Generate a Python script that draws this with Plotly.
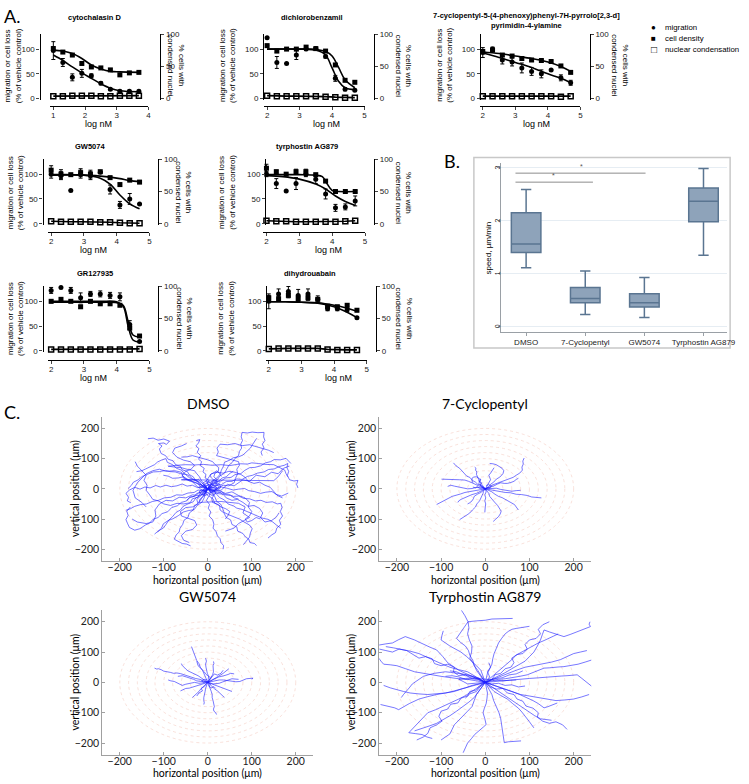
import plotly.graph_objects as go

W, H = 749, 784
FA = "Liberation Sans"
FC = "Lato"

# ---------------- Panel A data ----------------
logx_cyto = [1.0, 1.3, 1.6, 1.9, 2.2, 2.5, 2.8, 3.1, 3.4, 3.7]
logx_std = [2.0, 2.3, 2.6, 2.9, 3.2, 3.5, 3.8, 4.1, 4.4, 4.7]

cyto_mig = [97, 73, 43, 51, 46, 31, 19, 15, 15, 15]
cyto_mig_err = [18, 8, 7, 8, 4, 3, 2, 2, 2, 2]
cyto_den = [101, 94, 88, 71, 64, 62, 58, 48, 52, 53]
cyto_den_err = [4, 2, 2, 3, 2, 2, 2, 2, 2, 2]
cyto_nuc = [5, 5, 6, 6, 6, 5, 5, 6, 6, 6]
cyto_fit_x = [1.0, 1.3, 1.6, 1.9, 2.2, 2.5, 2.8, 3.1, 3.7]
cyto_fit_mig = [88, 77, 64, 52, 41, 30, 21, 16, 14]
cyto_fit_den = [98, 96, 91, 81, 68, 60, 55, 54, 53]

dichl_mig = [123, 73, 71, 88, 100, 101, 85, 41, 19, 17]
dichl_mig_err = [0, 12, 0, 9, 3, 2, 3, 6, 3, 2]
dichl_den = [107, 96, 100, 100, 104, 101, 96, 68, 37, 33]
dichl_den_err = [0, 3, 2, 2, 3, 2, 2, 3, 2, 2]
dichl_nuc = [6, 5, 5, 5, 5, 5, 4, 3, 2, 2]
dichl_fit_x = [2.0, 3.0, 3.5, 3.8, 4.0, 4.2, 4.4, 4.7]
dichl_fit_mig = [100, 100, 98, 88, 62, 35, 22, 18]
dichl_fit_den = [100, 100, 99, 95, 86, 63, 38, 22]

cyc7_mig = [93, 100, 78, 74, 62, 55, 50, 58, 42, 32]
cyc7_mig_err = [10, 4, 8, 8, 10, 8, 8, 0, 6, 5]
cyc7_den = [95, 98, 88, 86, 81, 78, 77, 75, 66, 53]
cyc7_den_err = [4, 3, 3, 3, 3, 2, 2, 2, 2, 2]
cyc7_nuc = [5, 5, 5, 5, 5, 5, 5, 5, 4, 5]
cyc7_fit_x = [2.0, 2.5, 3.0, 3.5, 4.0, 4.4, 4.7]
cyc7_fit_mig = [92, 83, 73, 63, 50, 41, 32]
cyc7_fit_den = [94, 91, 86, 81, 74, 65, 55]

gw_mig = [100, 97, 67, 100, 97, 104, 69, 38, 50, 40]
gw_mig_err = [8, 8, 0, 8, 8, 0, 9, 7, 11, 0]
gw_den = [108, 100, 99, 103, 100, 105, 93, 79, 88, 84]
gw_den_err = [9, 9, 2, 8, 8, 0, 2, 3, 3, 3]
gw_nuc = [5, 4, 4, 4, 4, 3, 3, 2, 1, 1]
gw_fit_x = [2.0, 3.0, 3.5, 3.8, 4.1, 4.4, 4.7]
gw_fit_mig = [99, 98, 92, 80, 58, 40, 30]
gw_fit_den = [98, 98, 96, 94, 91, 87, 85]

tyr_mig = [100, 81, 66, 81, 100, 90, 60, 32, 34, 46]
tyr_mig_err = [5, 10, 0, 12, 5, 9, 10, 7, 6, 10]
tyr_den = [112, 105, 100, 105, 105, 99, 86, 65, 65, 65]
tyr_den_err = [8, 3, 2, 5, 5, 2, 2, 2, 2, 2]
tyr_nuc = [6, 5, 5, 4, 4, 4, 4, 4, 5, 6]
tyr_fit_x = [2.0, 2.5, 3.0, 3.5, 3.8, 4.1, 4.4, 4.7]
tyr_fit_mig = [97, 95, 90, 80, 70, 56, 45, 37]
tyr_fit_den_x = [2.0, 3.0, 3.5, 3.7, 3.85, 4.0, 4.2, 4.7]
tyr_fit_den = [99, 99, 98, 95, 80, 67, 65, 65]

gr_mig = [122, 128, 122, 107, 115, 115, 112, 109, 53, 19]
gr_mig_err = [6, 0, 6, 10, 5, 6, 6, 8, 8, 0]
gr_den = [100, 104, 100, 89, 100, 95, 95, 92, 46, 30]
gr_den_err = [3, 2, 2, 3, 3, 2, 2, 2, 3, 2]
gr_nuc = [3, 3, 3, 3, 3, 3, 3, 3, 3, 4]
gr_fit_x = [2.0, 3.5, 4.0, 4.2, 4.35, 4.5, 4.7]
gr_fit_mig = [100, 100, 99, 90, 50, 22, 18]
gr_fit_den = [98, 98, 97, 92, 60, 32, 28]

dhou_mig = [100, 115, 120, 112, 115, 104, 85, 85, 83, 67]
dhou_mig_err = [15, 10, 10, 12, 10, 7, 4, 4, 4, 2]
dhou_den = [107, 105, 112, 105, 107, 104, 90, 89, 92, 82]
dhou_den_err = [5, 5, 5, 5, 5, 3, 3, 3, 3, 3]
dhou_nuc = [4, 5, 5, 5, 5, 5, 3, 2, 2, 2]
dhou_fit_x = [2.0, 2.5, 3.0, 3.5, 4.0, 4.4, 4.7]
dhou_fit_mig = [99, 99, 98, 96, 89, 78, 67]
dhou_fit_den = [99, 99, 98, 97, 92, 86, 80]

# ---------------- Panel B data ----------------
b_cats = ["DMSO", "7-Cyclopentyl", "GW5074", "Tyrphostin AG879"]
b_low = [1.10, 0.22, 0.16, 1.34]
b_q1 = [1.39, 0.44, 0.36, 1.97]
b_med = [1.55, 0.52, 0.44, 2.36]
b_q3 = [2.14, 0.73, 0.61, 2.61]
b_high = [2.58, 1.04, 0.92, 2.98]
b_yticks = [0, 1, 2, 3]

# ---------------- Panel C data (cell tracks, µm) ----------------
ring_radii = [20, 40, 60, 80, 100, 120, 140, 160, 180, 200]

dmso_tracks = [
    [(0,0),(-5,8),(-14,12),(-18,22),(-28,28),(-33,40),(-42,47),(-47,58),(-58,63),(-62,74),(-73,80),(-79,93),(-90,98),(-96,110),(-106,117),(-110,132),(-104,142),(-112,150),(-100,152),(-94,147),(-87,158),(-100,165),(-113,161),(-124,168),(-136,166)],
    [(0,0),(4,10),(-2,18),(3,28),(-6,36),(-4,48),(-11,56),(-8,68),(-17,77),(-14,90),(-21,98),(-16,110),(-24,121),(-20,133),(-27,142),(-21,152),(-18,163),(-26,160)],
    [(0,0),(7,12),(14,24),(22,30),(27,42),(38,52),(42,63),(48,78),(56,88),(62,101),(70,110),(72,124),(77,135),(75,148),(79,160),(76,172),(78,187),(90,185),(101,188),(114,186),(128,187),(127,172),(130,160),(124,148),(128,135),(121,122),(124,110)],
    [(0,0),(11,4),(19,12),(31,14),(42,24),(55,25),(66,33),(78,31),(90,41),(102,45),(113,52),(128,56),(138,64),(151,66),(163,74),(174,78),(182,84),(180,70),(184,58),(181,44),(186,30),(196,26),(205,28),(202,15),(205,3)],
    [(0,0),(12,-6),(24,-8),(33,-17),(47,-18),(58,-25),(71,-24),(82,-32),(95,-33),(108,-40),(121,-38),(133,-45),(147,-43),(158,-50),(166,-48),(169,-62),(165,-75),(170,-90),(163,-104),(166,-118),(157,-130),(154,-145),(146,-152),(137,-163)],
    [(0,0),(6,-12),(3,-24),(12,-33),(16,-48),(27,-55),(28,-70),(37,-80),(42,-95),(52,-103),(55,-118),(66,-126),(68,-140),(80,-148),(86,-160),(93,-166),(96,-178),(106,-181),(111,-188)],
    [(0,0),(-4,-14),(2,-26),(-3,-38),(4,-52),(1,-64),(7,-77),(3,-90),(11,-102),(14,-117),(12,-130),(19,-142),(22,-156),(28,-165),(30,-178),(36,-188),(35,-200)],
    [(0,0),(-9,-8),(-20,-12),(-28,-24),(-41,-28),(-48,-40),(-60,-45),(-69,-56),(-82,-62),(-91,-76),(-104,-82),(-113,-95),(-124,-101),(-133,-114),(-142,-120),(-154,-132),(-166,-137),(-178,-128),(-182,-116),(-186,-102),(-181,-88),(-184,-74),(-176,-60)],
    [(0,0),(-12,6),(-23,4),(-35,12),(-47,9),(-58,16),(-70,10),(-83,7),(-95,12),(-108,6),(-118,11),(-131,3),(-143,6),(-154,-1),(-166,5),(-178,-4),(-186,-15),(-180,-28),(-183,-40),(-175,-46)],
    [(0,0),(-6,-11),(-9,-24),(-17,-33),(-21,-47),(-30,-56),(-33,-70),(-42,-80),(-45,-95),(-54,-104),(-57,-118),(-63,-130),(-65,-143),(-72,-153),(-76,-167),(-66,-175),(-58,-181),(-48,-183),(-39,-189)],
    [(0,0),(-9,10),(-19,14),(-24,27),(-35,33),(-42,44),(-53,50),(-60,62),(-71,68),(-80,80),(-92,88),(-95,100),(-104,96),(-114,89),(-121,80),(-131,72),(-141,66),(-150,60),(-162,57)],
    [(0,0),(-6,14),(-14,26),(-19,40),(-26,52),(-30,60),(-45,64),(-60,70),(-75,72),(-90,75),(-70,78),(-50,80),(-30,79),(-10,81),(10,78),(30,80),(50,77),(60,79),(75,83),(90,82),(100,86),(115,84),(130,81),(150,80),(162,72),(175,62),(178,50),(182,40)],
    [(0,0),(-9,-11),(-17,-22),(-27,-30),(-33,-43),(-45,-50),(-56,-58),(-62,-70),(-72,-78),(-80,-92),(-88,-103),(-95,-118),(-101,-130),(-112,-139),(-121,-150)],
    [(0,0),(9,-11),(19,-16),(27,-29),(38,-37),(46,-50),(59,-57),(66,-64),(78,-68),(90,-76),(101,-84),(113,-91),(124,-97),(137,-101),(148,-110),(157,-121),(166,-130)],
    [(0,0),(11,9),(18,21),(30,26),(41,36),(53,38),(62,47),(75,50),(84,61),(95,70),(107,71),(120,76),(131,86),(143,90),(151,97),(165,96),(178,101),(184,92),(189,84)],
    [(0,0),(-8,4),(-13,13),(-24,17),(-35,25),(-44,30),(-55,40),(-67,36),(-80,35),(-90,42),(-101,45)],
    [(0,0),(-10,-6),(-22,-4),(-31,-12),(-45,-14),(-58,-21),(-71,-20),(-84,-28),(-99,-30),(-112,-38),(-126,-42),(-139,-50),(-152,-52),(-166,-58),(-176,-66),(-186,-71)],
    [(0,0),(8,-9),(15,-20),(9,-32),(11,-45),(22,-51),(30,-60),(41,-66),(50,-75),(46,-88),(40,-100)],
    [(0,0),(6,8),(10,16),(18,22),(20,31),(14,40),(16,51),(24,58),(25,70),(17,80),(11,90),(0,96),(-10,100),(-22,104),(-35,110),(-47,106),(-60,105)],
    [(0,0),(-12,9),(-21,22),(-31,29),(-42,37),(-51,48),(-61,50),(-74,56),(-86,57),(-96,61),(-110,57),(-124,56),(-136,48),(-149,41),(-158,30),(-169,22),(-174,11),(-181,1)],
    [(0,0),(12,3),(24,-1),(31,6),(44,2),(58,-4),(70,-1),(84,1),(93,-6),(106,-9),(120,-15),(132,-11),(146,-9),(155,-18),(168,-24),(175,-18),(183,-14)],
    [(0,0),(5,12),(11,26),(20,35),(28,48),(31,62),(36,76),(38,88),(50,95),(58,103),(70,106),(80,112),(88,124),(97,135),(102,147),(106,158),(111,167)],
    [(0,0),(-5,-13),(-8,-29),(-13,-44),(-24,-55),(-31,-69),(-44,-72),(-56,-77),(-67,-89),(-79,-99),(-90,-105),(-101,-116),(-105,-130),(-114,-143)],
    [(0,0),(8,-14),(16,-26),(20,-41),(30,-52),(34,-66),(37,-78),(48,-86),(60,-94),(72,-100),(84,-111),(95,-120),(101,-132),(97,-146),(95,-160),(88,-172),(81,-185)],
    [(0,0),(6,-5),(12,-9),(18,-2),(20,6),(13,12),(8,16),(-2,11),(-6,4),(-11,-5),(-5,-9)],
    [(0,0),(-5,7),(-9,13),(-2,19),(5,21),(11,13),(17,9),(24,15),(28,22)],
    [(0,0),(7,12),(14,28),(8,37),(5,46),(13,53),(21,60),(27,50),(31,41)],
    [(0,0),(10,10),(16,22),(25,26),(33,36),(42,40),(51,52),(58,58)],
    [(0,0),(-10,-3),(-16,-12),(-25,-15),(-31,-25),(-40,-28),(-48,-38)],
    [(0,0),(12,-5),(22,-13),(32,-10),(40,-20),(52,-22),(60,-30),(70,-34)],
    [(0,0),(10,-8),(25,-5),(40,-15),(55,-10),(70,-22),(85,-30),(95,-45),(92,-60),(100,-75),(95,-90),(85,-100),(90,-110),(100,-105),(110,-95),(120,-100)],
    [(0,0),(-15,5),(-25,20),(-40,25),(-55,35),(-60,55),(-75,60),(-95,58),(-110,65),(-125,60),(-140,50),(-150,35),(-160,20),(-170,-5),(-165,-30),(-150,-45),(-140,-60)],
    [(0,0),(-8,12),(-20,30),(-60,30),(20,29),(90,27),(150,27),(160,40),(170,60)],
    [(0,0),(30,-5),(45,15),(60,10),(80,30),(95,25),(110,45),(130,40),(145,55),(160,50),(172,68),(185,75)],
    [(0,0),(-8,-15),(-20,-22),(-35,-20),(-50,-30),(-65,-28),(-80,-40),(-95,-38),(-110,-50),(-120,-70),(-118,-90),(-125,-110),(-140,-115),(-160,-110),(-172,-100)],
    [(0,0),(-20,-45),(30,-42),(70,-48),(85,-60),(80,-80),(95,-95),(70,-115),(60,-130),(40,-140)],
    [(0,0),(10,5),(22,3),(35,12),(48,10),(60,20),(63,35),(68,50),(66,65),(72,78),(70,90),(58,95),(45,102),(32,106),(20,110),(24,122),(21,135),(28,148),(45,146),(62,150),(78,143),(95,146),(110,140),(125,133),(138,128),(150,120)],
    [(0,0),(-8,-10),(-18,-15),(-22,-28),(-35,-33),(-40,-46),(-55,-50),(-70,-48),(-85,-55),(-100,-50),(-112,-40),(-125,-35),(-132,-20),(-140,-5),(-138,12),(-145,28),(-140,45),(-150,60),(-160,75),(-165,90)],
    [(0,0),(3,12),(-4,25),(2,38),(8,50),(22,55),(35,52),(48,58),(62,55),(75,48),(85,38),(92,25),(105,18),(118,22),(130,12),(142,5),(150,-8),(158,-22),(170,-30)],
    [(0,0),(-5,-15),(-15,-22),(-25,-35),(-22,-50),(-35,-60),(-50,-62),(-62,-75),(-60,-90),(-45,-98),(-30,-105),(-25,-120),(-35,-135),(-50,-140),(-60,-155),(-55,-170),(-42,-178)],
    [(0,0),(-10,8),(-22,5),(-30,15),(-38,28),(-50,32),(-58,45),(-50,58),(-38,65),(-30,78),(-40,90),(-55,95),(-70,105),(-80,120),(-75,135),(-60,142),(-48,150)],
    [(0,0),(12,-5),(20,-15),(35,-18),(42,-30),(55,-38),(68,-35),(80,-45),(92,-58),(105,-55),(118,-65),(125,-80),(120,-95),(130,-110),(145,-105),(155,-95),(162,-80)],
    [(0,0),(8,6),(3,14),(-6,10),(-12,18),(-4,26),(6,22),(14,30),(22,24),(18,14),(26,8),(20,-2),(12,-8),(4,-14),(-6,-10),(-14,-4),(-20,4)],
    [(0,0),(-6,-6),(-14,-2),(-20,-10),(-14,-18),(-6,-22),(2,-16),(10,-22),(18,-16),(14,-6),(22,0),(30,6),(26,16),(16,18)],
]

cyc7_tracks = [
    [(0,0),(-6,5),(-10,12),(-17,15),(-22,22),(-29,28),(-35,38),(-42,42),(-48,52),(-52,60),(-58,68),(-66,76),(-72,86)],
    [(0,0),(-5,9),(-8,18),(-13,24),(-15,32),(-18,41),(-20,48),(-19,56),(-22,62),(-21,68),(-24,72)],
    [(0,0),(7,6),(12,15),(19,22),(25,32),(33,39),(40,50),(42,60),(38,68),(31,74),(25,80),(17,83),(10,84)],
    [(0,0),(8,4),(15,12),(25,17),(36,25),(45,27),(55,34),(63,38),(70,45),(78,52),(84,62),(83,72),(86,82),(85,92),(88,102)],
    [(0,0),(10,-3),(20,-5),(32,-10),(45,-12),(57,-13),(70,-18),(82,-19),(95,-22),(105,-27),(115,-28),(127,-30)],
    [(0,0),(2,-10),(-1,-20),(1,-30),(-1,-40),(1,-50),(0,-60),(-1,-70),(-1,-78)],
    [(0,0),(5,-8),(8,-15),(10,-25),(15,-35),(21,-44),(28,-55),(31,-64),(36,-74),(34,-83),(30,-92),(24,-100),(18,-108)],
    [(0,0),(-4,-8),(-5,-15),(-10,-28),(-13,-40),(-19,-50),(-22,-60),(-29,-70),(-35,-80),(-41,-86),(-48,-92),(-53,-98),(-58,-102)],
    [(0,0),(-8,-2),(-15,-5),(-22,-6),(-30,-10),(-38,-10),(-46,-12),(-56,-17),(-65,-20),(-75,-25),(-84,-32),(-92,-38),(-100,-45),(-106,-48),(-110,-52)],
    [(0,0),(-8,6),(-15,10),(-22,16),(-30,20),(-38,25),(-46,29),(-58,30),(-70,30),(-85,31),(-99,32)],
    [(0,0),(-10,3),(-20,5),(-30,1),(-40,0),(-50,3),(-60,5),(-70,9),(-78,12),(-85,8)],
    [(0,0),(10,4),(20,10),(28,16),(35,20),(43,18),(50,18),(58,21),(65,25),(70,31),(75,35)],
    [(0,0),(8,-4),(15,-10),(22,-18),(30,-25),(38,-29),(45,-35),(53,-40),(60,-45),(66,-52),(70,-60),(75,-70)],
    [(0,0),(-8,10),(-15,18),(-12,24),(-10,30),(-16,36),(-20,40),(-26,39),(-30,35),(-30,27),(-28,20)],
    [(0,0),(3,8),(5,15),(9,22),(12,30),(10,38),(8,45),(12,52),(15,60),(18,65),(20,70)],
    [(0,0),(-10,-8),(-20,-15),(-30,-19),(-40,-25),(-48,-30),(-55,-35),(-60,-40),(-62,-45)],
    [(0,0),(12,2),(25,2),(35,-2),(45,-5),(52,-7),(60,-8),(70,-6),(80,-5)],
    [(0,0),(-5,-6),(-10,-12),(-18,-18),(-25,-25),(-27,-33),(-30,-40),(-35,-46),(-40,-50)],
    [(0,0),(-6,4),(-12,2),(-18,7),(-22,3),(-28,6)],
    [(0,0),(5,5),(10,2),(14,9),(8,14),(2,11)],
    [(0,0),(-12,12),(-8,20),(-15,26),(-10,33)],
]

gw_tracks = [
    [(0,0),(-3,10),(-5,20),(-9,30),(-12,40),(-17,50),(-20,62),(-25,72),(-28,85),(-30,93),(-33,100),(-35,110),(-37,118)],
    [(0,0),(-9,6),(-18,10),(-28,13),(-38,18),(-46,22),(-55,25),(-62,29),(-70,31),(-78,30),(-85,33),(-92,35),(-100,37),(-106,42),(-112,45),(-116,44),(-121,47)],
    [(0,0),(-10,-2),(-20,-3),(-30,0),(-40,-2),(-50,-6),(-58,-10),(-67,-4),(-76,3),(-84,5),(-90,8)],
    [(0,0),(9,3),(18,5),(26,8),(35,8),(45,6),(55,5),(64,2),(73,3),(80,8),(88,12),(96,13),(103,14),(100,10)],
    [(0,0),(3,-10),(5,-20),(8,-30),(10,-40),(10,-50),(12,-60),(13,-70),(15,-80),(13,-88),(14,-95),(18,-100),(20,-106)],
    [(0,0),(-3,-10),(-5,-20),(-6,-30),(-8,-40),(-9,-50),(-9,-60),(-8,-67),(-9,-73)],
    [(0,0),(1,10),(2,20),(-1,30),(-3,40),(-4,50),(-5,60),(-3,70),(-5,80)],
    [(0,0),(4,8),(8,15),(11,25),(13,35),(12,45),(12,55),(14,62),(13,69)],
    [(0,0),(-7,8),(-15,15),(-22,22),(-30,28),(-38,32),(-45,38),(-50,44),(-55,50),(-58,56),(-60,62)],
    [(0,0),(10,-5),(20,-10),(28,-14),(35,-18),(40,-22),(45,-25),(50,-27),(55,-30)],
    [(0,0),(8,6),(15,12),(22,19),(30,25),(35,30),(40,35),(44,40),(48,45)],
    [(0,0),(-6,-8),(-12,-15),(-16,-22),(-20,-30),(-24,-35),(-28,-40),(-32,-45),(-35,-50)],
    [(0,0),(12,9),(25,18),(32,20),(40,22),(46,26),(52,30),(56,29),(60,28)],
    [(0,0),(-10,-5),(-20,-10),(-28,-14),(-35,-18),(-42,-19),(-50,-20),(-56,-24),(-62,-28)],
    [(0,0),(5,-8),(10,-15),(16,-22),(22,-28),(26,-34),(30,-40),(34,-45),(38,-50)],
    [(0,0),(-12,2),(-25,5),(-32,10),(-40,15),(-49,18),(-58,22),(-63,21),(-68,20)],
    [(0,0),(3,8),(6,15),(0,22),(-5,28),(-8,35),(-12,42),(-17,48),(-22,55),(-23,62),(-25,70)],
    [(0,0),(6,-3),(12,-5),(19,-4),(26,-3),(33,1),(40,5),(48,9),(55,12),(62,11),(70,10)],
    [(0,0),(-5,4),(-10,1),(-14,6),(-8,10),(-2,8)],
    [(0,0),(6,-6),(2,-12),(8,-18),(14,-14),(18,-20)],
    [(0,0),(-8,-14),(-15,-20),(-12,-28),(-20,-35),(-25,-45)],
    [(0,0),(10,20),(15,28),(22,24),(30,30),(35,40)],
]

tyr_tracks = [
    [(0,0),(-5,12),(-10,25),(-17,40),(-25,55),(-28,72),(-35,90),(-38,105),(-45,120),(-56,132),(-65,145),(-58,160),(-50,175),(-43,188),(-39,200),(-46,220),(-54,238)],
    [(0,0),(-10,20),(-20,40),(-26,60),(-35,80),(-31,100),(-30,120),(-36,140),(-40,160),(-37,180),(-39,200),(-20,203),(0,205),(15,209),(30,210),(46,212),(62,211)],
    [(0,0),(-15,10),(-30,20),(-45,30),(-60,40),(-72,52),(-85,65),(-96,85),(-110,107),(-125,116),(-140,125),(-150,133),(-160,140),(-170,146),(-181,151),(-196,141),(-210,130),(-225,127),(-241,123)],
    [(0,0),(-18,-7),(-35,-15),(-52,-21),(-70,-30),(-90,-34),(-110,-40),(-130,-47),(-150,-55),(-172,-70),(-196,-90),(-205,-84),(-215,-80),(-226,-76),(-237,-73)],
    [(0,0),(-15,-14),(-30,-30),(-44,-43),(-60,-55),(-78,-68),(-95,-80),(-112,-90),(-130,-100),(-140,-116),(-150,-130),(-162,-148),(-173,-166),(-158,-169),(-143,-172),(-132,-180),(-120,-185)],
    [(0,0),(3,-17),(5,-35),(4,-52),(2,-70),(-2,-85),(-5,-100),(-1,-120),(2,-139),(-4,-147),(-10,-155),(-17,-163),(-24,-172),(-31,-185),(-40,-200),(-45,-216),(-50,-232)],
    [(0,0),(8,-20),(15,-40),(19,-60),(25,-80),(31,-100),(35,-120),(37,-140),(40,-160),(41,-180),(43,-199),(52,-196),(60,-195),(70,-194),(81,-193)],
    [(0,0),(15,10),(30,20),(45,32),(60,45),(75,57),(90,70),(100,85),(110,100),(118,120),(125,140),(129,157),(133,173),(146,166),(160,160),(170,155),(178,151),(192,158),(205,165),(215,170),(225,175),(232,180),(238,184),(235,192),(237,200)],
    [(0,0),(15,5),(30,10),(45,12),(60,15),(78,20),(95,25),(115,36),(133,47),(145,48),(155,50),(167,51),(178,52),(194,56),(210,60),(226,67),(241,74)],
    [(0,0),(20,3),(40,5),(60,8),(80,10),(100,13),(120,15),(140,18),(160,20),(173,21),(185,22),(197,24),(208,25),(217,15),(225,5),(233,-4),(241,-13)],
    [(0,0),(15,-7),(30,-15),(45,-22),(60,-30),(78,-40),(95,-50),(108,-60),(120,-70),(127,-77),(133,-84),(142,-80),(150,-75),(157,-72),(163,-68)],
    [(0,0),(-20,5),(-40,10),(-60,12),(-80,15),(-100,20),(-120,25),(-140,30),(-160,35),(-180,45),(-200,55),(-215,58),(-230,60),(-236,70),(-241,80)],
    [(0,0),(-20,17),(-40,35),(-60,42),(-80,50),(-100,62),(-120,75),(-135,85),(-150,95),(-170,103),(-190,110),(-208,114),(-225,118)],
    [(0,0),(3,15),(5,30),(10,45),(15,60),(17,78),(20,95),(25,112),(30,130),(37,145),(45,160),(52,168),(60,175),(70,178),(80,180),(90,183),(100,185)],
    [(0,0),(-12,-25),(-25,-50),(-37,-65),(-50,-80),(-65,-95),(-80,-110),(-95,-123),(-110,-135),(-125,-143),(-140,-150),(-150,-155),(-160,-160)],
    [(0,0),(20,-20),(40,-40),(55,-55),(70,-70),(85,-85),(100,-100),(112,-110),(125,-120),(138,-123),(150,-125)],
    [(0,0),(-10,7),(-20,15),(-30,20),(-40,25),(-52,28),(-65,30),(-78,33),(-90,35),(-102,33),(-115,30),(-128,25),(-140,20),(-152,8),(-165,-5),(-172,-18),(-180,-30),(-185,-40),(-190,-50)],
    [(0,0),(12,15),(25,30),(37,45),(50,60),(60,75),(70,90),(82,100),(95,110),(108,120),(120,130),(133,138),(145,145),(155,153),(165,160)],
    [(0,0),(25,15),(50,30),(70,40),(90,50),(110,55),(130,60),(150,67),(170,75),(185,85),(200,95),(215,100),(230,105)],
    [(0,0),(-15,-5),(-30,-10),(-45,-18),(-60,-25),(-75,-30),(-90,-35),(-110,-38),(-130,-40),(-150,-38),(-170,-35),(-185,-30),(-200,-25),(-215,-18),(-230,-10)],
    [(0,0),(10,-15),(20,-30),(35,-43),(50,-55),(62,-70),(75,-85),(83,-98),(90,-110),(95,-120),(100,-130),(105,-140),(110,-150)],
    [(0,0),(-5,20),(-10,40),(-20,55),(-30,70),(-42,85),(-55,100),(-68,110),(-80,120),(-90,130),(-100,140),(-98,155),(-95,170)],
    [(0,0),(20,-10),(40,-20),(60,-30),(80,-40),(100,-45),(120,-50),(140,-55),(160,-60),(180,-58),(200,-55),(218,-48),(235,-40)],
    [(0,0),(-20,-3),(-40,-5),(-50,3),(-60,10),(-45,13),(-30,15),(-10,12),(10,10),(25,7),(40,5),(55,7),(70,8)],
    [(0,0),(-10,-20),(-20,-40),(-25,-60),(-30,-80),(-40,-95),(-50,-110),(-60,-125),(-70,-140),(-75,-155),(-80,-170),(-90,-180),(-100,-190)],
    [(0,0),(-15,8),(-30,12),(-45,10),(-60,18),(-75,22),(-90,20)],
    [(0,0),(15,-5),(30,-3),(45,-10),(60,-8),(75,-15),(90,-12)],
    [(0,0),(10,18),(5,35),(12,50),(8,65)],
    [(0,0),(-12,-15),(-20,-30),(-35,-38),(-45,-52)],
    [(0,0),(20,12),(38,15),(55,25),(70,28),(85,38)],
    [(0,0),(-25,20),(-45,22),(-65,35),(-80,38)],
    [(0,0),(-15,15),(-30,12),(-45,25),(-60,22),(-72,35),(-70,50),(-85,60),(-100,55),(-115,62),(-120,78),(-135,85),(-150,80),(-165,92),(-178,105),(-195,110),(-210,100),(-225,105),(-240,110)],
    [(0,0),(12,-15),(25,-22),(40,-20),(50,-35),(65,-40),(72,-55),(85,-62),(92,-78),(108,-85),(120,-100),(118,-115),(130,-128),(145,-135),(160,-130),(175,-140),(185,-155)],
    [(0,0),(-12,-10),(-20,-25),(-35,-30),(-40,-45),(-55,-52),(-62,-68),(-78,-72),(-85,-88),(-100,-95),(-105,-112),(-98,-128),(-110,-140),(-125,-150),(-130,-168),(-140,-180),(-155,-190)],
    [(0,0),(15,10),(22,25),(35,30),(45,45),(58,50),(65,65),(60,80),(72,92),(85,95),(95,110),(90,125),(100,140),(115,145),(125,160),(120,175),(130,190),(145,200)],
]

# ---------------- helpers ----------------
def fx(px):
    return px / W

def fy(py):
    return 1 - py / H

fig = go.Figure()
layout = {}
shapes = []
annotations = []

def ann(text, x, y, size, family=FA, angle=0, xanchor="center", yanchor="middle", color="black"):
    annotations.append(dict(text=text, x=fx(x), y=fy(y), xref="paper", yref="paper",
                            showarrow=False, textangle=angle, xanchor=xanchor, yanchor=yanchor,
                            font=dict(size=size, family=family, color=color)))

# ---------------- Panel A ----------------
rows = [
    dict(zero=95.5, xline=103, title_y=14, lab_y=62, lognm_y=121.5),
    dict(zero=221.7, xline=230, title_y=144, lab_y=190, lognm_y=248),
    dict(zero=350, xline=359, title_y=272, lab_y=317, lognm_y=377),
]

A = [
    dict(title="<b>cytochalasin D</b>", x=logx_cyto, mig=cyto_mig, me=cyto_mig_err, den=cyto_den, de=cyto_den_err,
         nuc=cyto_nuc, fxm=cyto_fit_x, fm=cyto_fit_mig, fxd=cyto_fit_x, fd=cyto_fit_den,
         ticks=[1, 2, 3, 4], xr=[0.9, 4.0], yl=40, yr=162, x0=50.7, x1=150, row=0, tx=96, lx=13, rx=178, nx=100),
    dict(title="<b>dichlorobenzamil</b>", x=logx_std, mig=dichl_mig, me=dichl_mig_err, den=dichl_den, de=dichl_den_err,
         nuc=dichl_nuc, fxm=dichl_fit_x, fm=dichl_fit_mig, fxd=dichl_fit_x, fd=dichl_fit_den,
         ticks=[2, 3, 4, 5], xr=[1.9, 5.0], yl=266, yr=378, x0=266.7, x1=368.5, row=0, tx=315, lx=230, rx=408, nx=330),
    dict(title="<b>7-cyclopentyl-5-(4-phenoxy)phenyl-7H-pyrrolo[2,3-d]<br>pyrimidin-4-ylamine</b>", x=logx_std,
         mig=cyc7_mig, me=cyc7_mig_err, den=cyc7_den, de=cyc7_den_err,
         nuc=cyc7_nuc, fxm=cyc7_fit_x, fm=cyc7_fit_mig, fxd=cyc7_fit_x, fd=cyc7_fit_den,
         ticks=[2, 3, 4, 5], xr=[1.9, 5.0], yl=485, yr=596, x0=484.7, x1=586.7, row=0, tx=532, lx=449, rx=627, nx=542),
    dict(title="<b>GW5074</b>", x=logx_std, mig=gw_mig, me=gw_mig_err, den=gw_den, de=gw_den_err,
         nuc=gw_nuc, fxm=gw_fit_x, fm=gw_fit_mig, fxd=gw_fit_x, fd=gw_fit_den,
         ticks=[2, 3, 4, 5], xr=[1.9, 5.0], yl=43, yr=160, x0=48.4, x1=151, row=1, tx=91, lx=15, rx=186, nx=95),
    dict(title="<b>tyrphostin AG879</b>", x=logx_std, mig=tyr_mig, me=tyr_mig_err, den=tyr_den, de=tyr_den_err,
         nuc=tyr_nuc, fxm=tyr_fit_x, fm=tyr_fit_mig, fxd=tyr_fit_den_x, fd=tyr_fit_den,
         ticks=[2, 3, 4, 5], xr=[1.9, 5.0], yl=268, yr=378, x0=266, x1=369, row=1, tx=310, lx=229, rx=408, nx=332),
    dict(title="<b>GR127935</b>", x=logx_std, mig=gr_mig, me=gr_mig_err, den=gr_den, de=gr_den_err,
         nuc=gr_nuc, fxm=gr_fit_x, fm=gr_fit_mig, fxd=gr_fit_x, fd=gr_fit_den,
         ticks=[2, 3, 4, 5], xr=[1.9, 5.0], yl=43, yr=160, x0=48.4, x1=151, row=2, tx=96, lx=15, rx=187, nx=95),
    dict(title="<b>dihydrouabain</b>", x=logx_std, mig=dhou_mig, me=dhou_mig_err, den=dhou_den, de=dhou_den_err,
         nuc=dhou_nuc, fxm=dhou_fit_x, fm=dhou_fit_mig, fxd=dhou_fit_x, fd=dhou_fit_den,
         ticks=[2, 3, 4, 5], xr=[1.9, 5.0], yl=269, yr=380, x0=268.4, x1=370.7, row=2, tx=313, lx=228, rx=409, nx=342),
]

axis_font = dict(family=FA, size=8, color="#222")
yidx = 0
xidx = 0
for s in A:
    r = rows[s["row"]]
    xidx += 1
    yidx += 1
    xn, yln = xidx, yidx
    yidx += 1
    yrn = yidx
    xa, ya, yb = f"x{xn}", f"y{yln}", f"y{yrn}"
    layout[f"xaxis{xn}"] = dict(domain=[fx(s["x0"]), fx(s["x1"])], range=s["xr"], anchor="free",
                                position=fy(r["xline"]), tickvals=s["ticks"], ticks="outside", ticklen=3,
                                tickwidth=1, showline=True, linecolor="black", linewidth=1.3, showgrid=False,
                                zeroline=False, tickfont=axis_font, ticklabelstandoff=-2)
    dom = [fy(r["zero"] + 1.5), fy(r["zero"] - 65.5)]
    layout[f"yaxis{yln}"] = dict(domain=dom, range=[-3, 131], anchor="free", position=fx(s["yl"]),
                                 tickvals=[0, 50, 100], ticks="outside", ticklen=3, tickwidth=1,
                                 showline=True, linecolor="black", linewidth=1.3, showgrid=False,
                                 zeroline=False, tickfont=axis_font)
    layout[f"yaxis{yrn}"] = dict(overlaying=ya, side="right", range=[-2.3, 100.7], anchor="free",
                                 position=fx(s["yr"]), tickvals=[0, 50, 100], ticks="outside", ticklen=3,
                                 tickwidth=1, showline=True, linecolor="black", linewidth=1.3,
                                 showgrid=False, zeroline=False, tickfont=axis_font)
    fig.add_trace(go.Scatter(x=s["fxd"], y=s["fd"], mode="lines", line=dict(color="black", width=1.6, shape="spline"),
                             xaxis=xa, yaxis=ya, showlegend=False, hoverinfo="skip"))
    fig.add_trace(go.Scatter(x=s["fxm"], y=s["fm"], mode="lines", line=dict(color="black", width=1.6, shape="spline"),
                             xaxis=xa, yaxis=ya, showlegend=False, hoverinfo="skip"))
    fig.add_trace(go.Scatter(x=s["x"], y=s["nuc"], mode="lines+markers", cliponaxis=False,
                             line=dict(color="black", width=1.6),
                             marker=dict(symbol="square-open", size=5, color="black", line=dict(width=1.5)),
                             xaxis=xa, yaxis=ya, showlegend=False))
    fig.add_trace(go.Scatter(x=s["x"], y=s["den"], mode="markers", cliponaxis=False,
                             marker=dict(symbol="square", size=5, color="black"),
                             error_y=dict(type="data", array=s["de"], color="black", thickness=1, width=2),
                             xaxis=xa, yaxis=ya, showlegend=False))
    fig.add_trace(go.Scatter(x=s["x"], y=s["mig"], mode="markers", cliponaxis=False,
                             marker=dict(symbol="circle", size=5, color="black"),
                             error_y=dict(type="data", array=s["me"], color="black", thickness=1, width=2),
                             xaxis=xa, yaxis=ya, showlegend=False))
    fig.add_trace(go.Scatter(x=[None], y=[None], xaxis=xa, yaxis=yb, showlegend=False, hoverinfo="skip"))

    ty = r["title_y"] + (3 if "<br>" in s["title"] else 0)
    ann(s["title"], s["tx"], ty, 7.5)
    ann("migration or cell loss<br>(% of vehicle control)", s["lx"], r["lab_y"], 8, angle=-90)
    ann("% cells with<br>condensed nuclei", s["rx"], r["lab_y"], 8, angle=90)
    ann("log nM", s["nx"], r["lognm_y"], 9)

# legend (panel A)
for i, (sym, lab) in enumerate([("●", "migration"), ("■", "cell density"), ("□", "nuclear condensation")]):
    ann(sym, 661, 24 + 11 * i, 8 if sym != "□" else 10)
    ann(lab, 670, 24 + 11 * i, 7.8, xanchor="left")

ann("A.", 2, 12, 18, family=FC, xanchor="left")
ann("B.", 447, 158, 18, family=FC, xanchor="left")
ann("C.", 2, 412, 18, family=FC, xanchor="left")

# ---------------- Panel B ----------------
xidx += 1
yidx += 1
bx, by = xidx, yidx
shapes.append(dict(type="rect", xref="paper", yref="paper", x0=fx(479), x1=fx(738), y0=fy(347), y1=fy(155),
                   line=dict(color="#c8c8c8", width=1.5), fillcolor="rgba(0,0,0,0)", layer="below"))
layout[f"xaxis{bx}"] = dict(domain=[fx(506.7), fx(735)], range=[-0.42, 3.4], anchor=f"y{by}",
                            type="category", showline=True, linecolor="#9aa0a6", linewidth=1,
                            ticks="outside", ticklen=3, tickcolor="#9aa0a6", showgrid=False, zeroline=False,
                            tickfont=dict(family=FA, size=8, color="#222"))
layout[f"yaxis{by}"] = dict(domain=[fy(330.7), fy(160)], range=[-0.107, 3.09], anchor=f"x{bx}",
                            tickvals=b_yticks, showticklabels=False, showline=True, linecolor="#9aa0a6",
                            linewidth=1, ticks="outside", ticklen=2, tickcolor="#9aa0a6",
                            showgrid=True, gridcolor="#e6edf3", gridwidth=1, zeroline=False)
for v in b_yticks:
    annotations.append(dict(text=str(v), x=fx(502.5), xref="paper", y=v, yref=f"y{by}", showarrow=False,
                            textangle=-90, xanchor="center", yanchor="middle",
                            font=dict(size=7, family=FA, color="#222")))
fig.add_trace(go.Box(x=b_cats, q1=b_q1, median=b_med, q3=b_q3, lowerfence=b_low, upperfence=b_high,
                     width=0.5, whiskerwidth=0.35, fillcolor="#8ea3ba",
                     line=dict(color="#5a7591", width=1.5), xaxis=f"x{bx}", yaxis=f"y{by}",
                     showlegend=False, boxpoints=False))
for (xa0, xa1, yv, sx) in [(-0.18, 2.02, 2.89, 0.93), (-0.18, 1.13, 2.72, 0.46)]:
    shapes.append(dict(type="line", xref=f"x{bx}", yref=f"y{by}", x0=xa0, x1=xa1, y0=yv, y1=yv,
                       line=dict(color="#8c8c8c", width=1)))
    annotations.append(dict(text="*", x=sx, y=yv + 0.03, xref=f"x{bx}", yref=f"y{by}", showarrow=False,
                            yanchor="bottom", font=dict(size=7, family=FA, color="#555")))
ann("speed, µm/min", 494, 246, 8, angle=-90)

# ---------------- Panel C ----------------
C = [
    dict(name="DMSO", tracks=dmso_tracks, xd=[103.3, 316.7], yd=[416.7, 561.7], ty=403, vx=76, hy=581),
    dict(name="7-Cyclopentyl", tracks=cyc7_tracks, xd=[383.3, 597.7], yd=[416.7, 561.7], ty=403, vx=355, hy=581),
    dict(name="GW5074", tracks=gw_tracks, xd=[103.3, 316.7], yd=[611.7, 757.3], ty=598, vx=76, hy=776),
    dict(name="Tyrphostin AG879", tracks=tyr_tracks, xd=[383.3, 597.7], yd=[611.7, 757.3], ty=598, vx=355, hy=776),
]
cfont = dict(family=FC, size=10.5, color="#222")
for c in C:
    xidx += 1
    yidx += 1
    cx, cy = xidx, yidx
    layout[f"xaxis{cx}"] = dict(domain=[fx(c["xd"][0]), fx(c["xd"][1])], range=[-240, 240], anchor=f"y{cy}",
                                tickvals=[-200, -100, 0, 100, 200], showline=True, linecolor="#a0a0a0",
                                linewidth=1, ticks="inside", ticklen=3, tickcolor="#a0a0a0",
                                showgrid=False, zeroline=False, tickfont=cfont, ticklabelstandoff=-3)
    layout[f"yaxis{cy}"] = dict(domain=[fy(c["yd"][1]), fy(c["yd"][0])], range=[-238, 238], anchor=f"x{cx}",
                                tickvals=[-200, -100, 0, 100, 200], showline=True, linecolor="#a0a0a0",
                                linewidth=1, ticks="inside", ticklen=3, tickcolor="#a0a0a0",
                                showgrid=False, zeroline=False, tickfont=cfont)
    for rr in ring_radii:
        shapes.append(dict(type="circle", xref=f"x{cx}", yref=f"y{cy}", x0=-rr, x1=rr, y0=-rr, y1=rr,
                           line=dict(color="#f5cdc2", width=0.6, dash="dot"), layer="below"))
    xs, ys = [], []
    for t in c["tracks"]:
        for (px_, py_) in t:
            xs.append(px_)
            ys.append(py_)
        xs.append(None)
        ys.append(None)
    fig.add_trace(go.Scatter(x=xs, y=ys, mode="lines", line=dict(color="rgba(30,30,255,0.8)", width=0.75),
                             xaxis=f"x{cx}", yaxis=f"y{cy}", showlegend=False, hoverinfo="skip",
                             connectgaps=False))
    xc = (c["xd"][0] + c["xd"][1]) / 2
    ann(c["name"], xc, c["ty"], 14, family=FC)
    ann("vertical position (μm)", c["vx"], (c["yd"][0] + c["yd"][1]) / 2, 10.5, family=FC, angle=-90)
    ann("horizontal position (μm)", xc, c["hy"], 10.5, family=FC)

layout.update(dict(width=W, height=H, autosize=False, margin=dict(l=0, r=0, t=0, b=0),
                   paper_bgcolor="white", plot_bgcolor="white", showlegend=False,
                   shapes=shapes, annotations=annotations))
fig.update_layout(**layout)
fig.write_html("out.html", config={"displayModeBar": False},
               post_script="document.body.style.margin='0px';document.body.style.overflow='hidden';")
